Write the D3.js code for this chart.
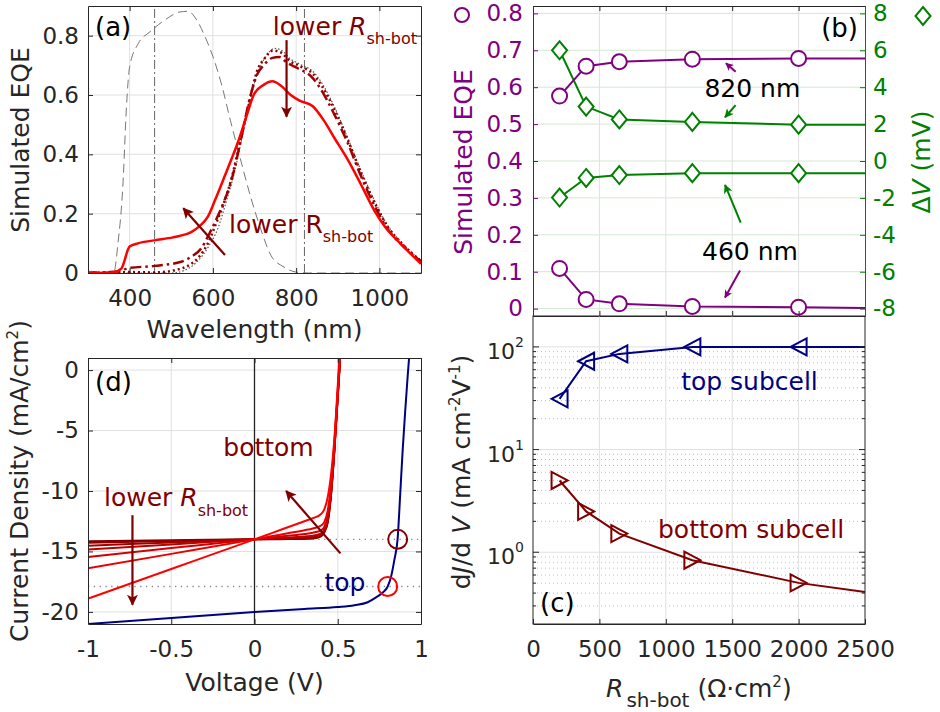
<!DOCTYPE html>
<html><head><meta charset="utf-8">
<script src="https://cdn.jsdelivr.net/npm/d3@7"></script>
<style>body{margin:0;background:#fff}svg{display:block}</style>
</head><body><svg id="c" width="940" height="712"></svg>
<script>
// ===================== DATA =====================
// Panel (a): simulated EQE vs wavelength (nm)
const eqeLowRsh  = [[300,0],[360,0.002],[380,0.015],[400,0.089],[420,0.1],[460,0.11],[504,0.12],[520,0.125],[548,0.138],[568,0.158],[588,0.19],[605,0.245],[628,0.325],[645,0.385],[660,0.44],[682,0.534],[698,0.6],[723,0.635],[743,0.646],[763,0.632],[787,0.6],[807,0.582],[840,0.562],[868,0.511],[892,0.455],[924,0.382],[956,0.298],[989,0.208],[1013,0.157],[1045,0.107],[1077,0.062],[1100,0.031]];
const eqeMidRsh  = [[300,0],[376,0.006],[396,0.016],[460,0.024],[524,0.038],[548,0.055],[572,0.083],[592,0.134],[608,0.18],[625,0.235],[642,0.3],[666,0.44],[686,0.573],[706,0.668],[723,0.702],[743,0.725],[759,0.728],[779,0.708],[803,0.691],[840,0.657],[860,0.618],[892,0.534],[924,0.438],[956,0.326],[989,0.225],[1021,0.146],[1053,0.096],[1100,0.039]];
const eqeHighRsh = [[300,0],[400,0.003],[460,0.002],[516,0.012],[540,0.024],[564,0.05],[588,0.1],[608,0.168],[625,0.23],[645,0.32],[665,0.44],[685,0.56],[706,0.68],[725,0.725],[745,0.75],[765,0.742],[785,0.715],[810,0.697],[840,0.672],[862,0.63],[892,0.551],[924,0.449],[956,0.337],[989,0.236],[1021,0.154],[1053,0.101],[1100,0.04]];
const eqeNoShunt = [[300,0],[500,0],[530,0.008],[560,0.035],[590,0.09],[612,0.15],[632,0.24],[652,0.34],[672,0.47],[692,0.6],[712,0.69],[730,0.735],[748,0.757],[766,0.75],[786,0.722],[810,0.703],[840,0.68],[862,0.64],[892,0.56],[924,0.455],[956,0.345],[989,0.242],[1021,0.158],[1053,0.104],[1100,0.042]];
const eqeTopCell = [[300,0.006],[362,0.003],[372,0.1],[384,0.3],[392,0.55],[400,0.695],[421,0.774],[449,0.813],[485,0.853],[521,0.88],[541,0.882],[561,0.853],[581,0.797],[600,0.73],[620,0.64],[642,0.515],[666,0.385],[690,0.26],[715,0.148],[740,0.058],[771,0.02],[800,0.003],[830,0],[1100,0]];
const probeWavelengths = [460, 820];
const aXTicks = [400, 600, 800, 1000];
const aYTicks = [0, 0.2, 0.4, 0.6, 0.8];

// Panels (b),(c): bottom-cell shunt resistance (Ohm cm2)
const rshLine   = [200, 400, 650, 1200, 2000, 2500];
const rshMarked = [200, 400, 650, 1200, 2000];
const eqe820 = [0.576, 0.657, 0.669, 0.676, 0.678, 0.678];
const eqe460 = [0.109, 0.025, 0.013, 0.006, 0.004, 0.002];
const dv820  = [6.0, 2.95, 2.25, 2.12, 1.97, 1.97];
const dv460  = [-1.98, -0.92, -0.76, -0.66, -0.66, -0.66];
const bXTicks = [0, 500, 1000, 1500, 2000, 2500];
const bYLeftTicks  = [0, 0.1, 0.2, 0.3, 0.4, 0.5, 0.6, 0.7, 0.8];
const bYRightTicks = [-8, -6, -4, -2, 0, 2, 4, 6, 8];
const slopeTop    = [31.2, 72.5, 85.5, 100, 100, 100];
const slopeBottom = [5.0, 2.5, 1.52, 0.836, 0.503, 0.41];
const cYTicks = [1, 10, 100];

// Panel (d): J-V curves
const jvVoltage = [-1, -0.5, 0, 0.1, 0.2, 0.3, 0.35, 0.4, 0.42, 0.44, 0.46, 0.48, 0.5, 0.52, 0.54];
const jvBottom = [
  [-18.9,-16.45,-14.0,-13.5,-13.0,-12.5,-12.25,-11.9,-11.5,-10.5,-8.6,-5.6,-1.3,3.5,9.0],
  [-16.4,-15.2,-14.0,-13.75,-13.5,-13.25,-13.1,-12.85,-12.55,-11.6,-9.4,-6.0,-1.7,3.0,8.5],
  [-15.45,-14.72,-14.0,-13.85,-13.7,-13.55,-13.45,-13.25,-12.95,-12.0,-9.8,-6.3,-1.9,2.7,8.0],
  [-14.83,-14.42,-14.0,-13.92,-13.84,-13.76,-13.7,-13.5,-13.15,-12.3,-10.0,-6.4,-2.0,2.5,7.8],
  [-14.52,-14.26,-14.0,-13.95,-13.9,-13.85,-13.8,-13.6,-13.25,-12.4,-10.1,-6.5,-2.1,2.4,7.7],
  [-14.28,-14.14,-14.0,-13.98,-13.95,-13.92,-13.88,-13.7,-13.35,-12.5,-10.2,-6.55,-2.15,2.35,7.6],
  [-14.15,-14.07,-14.0,-13.99,-13.98,-13.96,-13.93,-13.75,-13.4,-12.6,-10.3,-6.6,-2.2,2.3,7.5]
];
const jvTopV = [-1,-0.5,0,0.3,0.5,0.6,0.68,0.73,0.77,0.8,0.82,0.84,0.86,0.875,0.89,0.905,0.92,0.935];
const jvTopJ = [-21.0,-20.5,-20.0,-19.75,-19.6,-19.45,-19.2,-18.8,-18.4,-17.9,-17.1,-15.7,-13.9,-10.3,-6.6,-3.4,-0.5,2.2];
const opPoints = [[0.8,-17.9],[0.86,-14.0]];
const dXTicks = [-1, -0.5, 0, 0.5, 1];
const dYTicks = [-20, -15, -10, -5, 0];

// ===================== STYLE =====================
const FONT = "DejaVu Sans", AX = "#262626", GRID = "#e0e0e0";
const FT = 23, FL = 25;
const PURPLE = "#800080", GREEN = "#008000", NAVY = "#000080", DRED = "#800000", RED = "#ff0000";

const svg = d3.select("#c").attr("font-family", FONT);
const defs = svg.append("defs");
function mkArrow(id, color, w, h) {
  defs.append("marker").attr("id", id).attr("viewBox", "0 0 10 10")
    .attr("refX", 9).attr("refY", 5).attr("markerUnits", "userSpaceOnUse")
    .attr("markerWidth", w).attr("markerHeight", h).attr("orient", "auto")
    .append("path").attr("d", "M0,0L10,5L0,10L2.5,5Z").attr("fill", color);
}
mkArrow("arDR", DRED, 13, 11);
mkArrow("arP", PURPLE, 9, 8);
mkArrow("arG", GREEN, 10, 9);
function clipRect(id, x, y) {
  const [a, b] = x.range(), [c, d] = y.range();
  defs.append("clipPath").attr("id", id).append("rect")
    .attr("x", Math.min(a, b)).attr("y", Math.min(c, d))
    .attr("width", Math.abs(b - a)).attr("height", Math.abs(d - c));
}
function styleAxis(sel, color) {
  sel.attr("font-family", FONT).attr("font-size", FT);
  sel.select(".domain").attr("stroke", color).attr("stroke-width", 1);
  sel.selectAll(".tick line").attr("stroke", color);
  sel.selectAll(".tick text").attr("fill", color);
  return sel;
}
const fmt = d => String(d);
const none = () => "";
function arrow(g, x1, y1, x2, y2, color, id, w) {
  g.append("line").attr("x1", x1).attr("y1", y1).attr("x2", x2).attr("y2", y2)
    .attr("stroke", color).attr("stroke-width", w).attr("marker-end", `url(#${id})`);
}
function vlabel(x, y, parts, color) {
  const t = svg.append("text").attr("transform", `translate(${x},${y}) rotate(-90)`)
    .attr("text-anchor", "middle").attr("font-size", FL).attr("fill", color);
  parts(t);
  return t;
}

// ===================== PANEL (a) =====================
{
  const g = svg.append("g");
  const x = d3.scaleLinear().domain([300, 1100]).range([88, 421]);
  const y = d3.scaleLinear().domain([0, 0.9]).range([273, 6]);
  clipRect("clipA", x, y);
  g.selectAll(".gx").data(aXTicks).join("line").attr("x1", d => x(d)).attr("x2", d => x(d))
    .attr("y1", y.range()[0]).attr("y2", y.range()[1]).attr("stroke", GRID);
  g.selectAll(".gy").data(aYTicks.slice(1)).join("line").attr("y1", d => y(d)).attr("y2", d => y(d))
    .attr("x1", x.range()[0]).attr("x2", x.range()[1]).attr("stroke", GRID);
  const pg = g.append("g").attr("clip-path", "url(#clipA)");
  pg.selectAll(".vm").data(probeWavelengths).join("line").attr("x1", d => x(d)).attr("x2", d => x(d))
    .attr("y1", y.range()[0]).attr("y2", y.range()[1]).attr("stroke", "#666").attr("stroke-width", 1)
    .attr("stroke-dasharray", "9,3,2,3");
  const line = d3.line().x(d => x(d[0])).y(d => y(d[1])).curve(d3.curveMonotoneX);
  pg.append("path").attr("d", line(eqeTopCell)).attr("fill", "none").attr("stroke", "#777")
    .attr("stroke-width", 1).attr("stroke-dasharray", "9,5");
  pg.append("path").attr("d", line(eqeNoShunt)).attr("fill", "none").attr("stroke", "#555")
    .attr("stroke-width", 1.2).attr("stroke-dasharray", "1.5,2");
  pg.append("path").attr("d", line(eqeHighRsh)).attr("fill", "none").attr("stroke", "#8b0000")
    .attr("stroke-width", 2.5).attr("stroke-dasharray", "2,3");
  pg.append("path").attr("d", line(eqeMidRsh)).attr("fill", "none").attr("stroke", "#a00000")
    .attr("stroke-width", 2.5).attr("stroke-dasharray", "11,4,2.5,4");
  pg.append("path").attr("d", line(eqeLowRsh)).attr("fill", "none").attr("stroke", RED)
    .attr("stroke-width", 2.5);
  // axes
  styleAxis(g.append("g").attr("transform", `translate(0,${y.range()[0]})`)
    .call(d3.axisBottom(x).tickValues(aXTicks).tickSize(-5).tickSizeOuter(0).tickPadding(17).tickFormat(fmt)), AX);
  styleAxis(g.append("g").attr("transform", `translate(0,${y.range()[1]})`)
    .call(d3.axisTop(x).tickValues(aXTicks).tickSize(-5).tickSizeOuter(0).tickFormat(none)), AX);
  styleAxis(g.append("g").attr("transform", `translate(${x.range()[0]},0)`)
    .call(d3.axisLeft(y).tickValues(aYTicks).tickSize(-5).tickSizeOuter(0).tickPadding(9).tickFormat(fmt)), AX);
  styleAxis(g.append("g").attr("transform", `translate(${x.range()[1]},0)`)
    .call(d3.axisRight(y).tickValues(aYTicks).tickSize(-5).tickSizeOuter(0).tickFormat(none)), AX);
  // annotations
  arrow(g, x(777), y(0.785), x(777), y(0.527), DRED, "arDR", 2.2);
  arrow(g, x(629), y(0.061), x(529), y(0.218), DRED, "arDR", 2.2);
  const t1 = g.append("text").attr("x", x(744)).attr("y", y(0.802)).attr("font-size", FL).attr("fill", DRED);
  t1.append("tspan").text("lower ");
  t1.append("tspan").attr("font-style", "italic").text("R");
  t1.append("tspan").attr("font-size", 16).attr("dy", 9).text("sh-bot");
  const t2 = g.append("text").attr("x", x(639)).attr("y", y(0.135)).attr("font-size", FL).attr("fill", DRED);
  t2.append("tspan").text("lower R");
  t2.append("tspan").attr("font-size", 16).attr("dy", 9).text("sh-bot");
  g.append("text").attr("x", 95).attr("y", 36).attr("font-size", 26).attr("fill", "#000").text("(a)");
  g.append("text").attr("x", (x.range()[0] + x.range()[1]) / 2).attr("y", 338).attr("text-anchor", "middle")
    .attr("font-size", FL).attr("fill", AX).text("Wavelength (nm)");
  vlabel(29, 140, t => t.text("Simulated EQE"), AX);
}

// ===================== PANEL (b) =====================
{
  const g = svg.append("g");
  const x = d3.scaleLinear().domain([0, 2500]).range([533, 865]);
  const yL = d3.scaleLinear().domain([-0.02, 0.82]).range([316, 6]);
  const yR = d3.scaleLinear().domain([-8.4, 8.4]).range([316, 6]);
  g.selectAll(".gy").data(bYRightTicks).join("line").attr("y1", d => yR(d)).attr("y2", d => yR(d))
    .attr("x1", x.range()[0]).attr("x2", x.range()[1]).attr("stroke", "#d3e8d3");
  g.selectAll(".gx").data(bXTicks.slice(1, -1)).join("line").attr("x1", d => x(d)).attr("x2", d => x(d))
    .attr("y1", 316).attr("y2", 6).attr("stroke", GRID);
  const lineL = d3.line().x((d, i) => x(rshLine[i])).y(d => yL(d));
  const lineR = d3.line().x((d, i) => x(rshLine[i])).y(d => yR(d));
  [dv820, dv460].forEach(s => g.append("path").attr("d", lineR(s)).attr("fill", "none")
    .attr("stroke", GREEN).attr("stroke-width", 2));
  [eqe820, eqe460].forEach(s => g.append("path").attr("d", lineL(s)).attr("fill", "none")
    .attr("stroke", PURPLE).attr("stroke-width", 2));
  const diamond = "M0,-9L7.5,0L0,9L-7.5,0Z";
  [dv820, dv460].forEach(s => g.append("g").selectAll("path").data(rshMarked).join("path")
    .attr("transform", (r, i) => `translate(${x(r)},${yR(s[i])})`).attr("d", diamond)
    .attr("fill", "#fff").attr("stroke", GREEN).attr("stroke-width", 2));
  [eqe820, eqe460].forEach(s => g.append("g").selectAll("circle").data(rshMarked).join("circle")
    .attr("cx", r => x(r)).attr("cy", (r, i) => yL(s[i])).attr("r", 7.5)
    .attr("fill", "#fff").attr("stroke", PURPLE).attr("stroke-width", 2));
  styleAxis(g.append("g").attr("transform", `translate(0,316)`)
    .call(d3.axisBottom(x).tickValues(bXTicks).tickSize(-5).tickSizeOuter(0).tickFormat(none)), AX);
  styleAxis(g.append("g").attr("transform", `translate(0,6)`)
    .call(d3.axisTop(x).tickValues(bXTicks).tickSize(-5).tickSizeOuter(0).tickFormat(none)), AX);
  styleAxis(g.append("g").attr("transform", `translate(533,0)`)
    .call(d3.axisLeft(yL).tickValues(bYLeftTicks).tickSize(-5).tickSizeOuter(0).tickPadding(10).tickFormat(fmt)), PURPLE);
  styleAxis(g.append("g").attr("transform", `translate(865,0)`)
    .call(d3.axisRight(yR).tickValues(bYRightTicks).tickSize(-5).tickSizeOuter(0).tickPadding(8).tickFormat(fmt)), GREEN);
  // annotations
  g.append("text").attr("x", x(1652)).attr("y", yL(0.574)).attr("text-anchor", "middle")
    .attr("font-size", FL).attr("fill", "#000").text("820 nm");
  g.append("text").attr("x", x(1634)).attr("y", yL(0.132)).attr("text-anchor", "middle")
    .attr("font-size", FL).attr("fill", "#000").text("460 nm");
  arrow(g, x(1526), yL(0.642), x(1453), yL(0.665), PURPLE, "arP", 2);
  arrow(g, x(1526), yR(3.03), x(1446), yR(2.37), GREEN, "arG", 2);
  arrow(g, x(1564), yR(-3.34), x(1446), yR(-1.30), GREEN, "arG", 2);
  arrow(g, x(1559), yL(0.103), x(1446), yL(0.030), PURPLE, "arP", 2);
  g.append("text").attr("x", 858).attr("y", 37).attr("text-anchor", "end").attr("font-size", 26)
    .attr("fill", "#000").text("(b)");
  // axis labels with marker symbols
  svg.append("circle").attr("cx", 462).attr("cy", 15).attr("r", 7).attr("fill", "none")
    .attr("stroke", PURPLE).attr("stroke-width", 2);
  vlabel(472, 162, t => t.text("Simulated EQE"), PURPLE);
  svg.append("path").attr("transform", "translate(923,16)").attr("d", diamond)
    .attr("fill", "none").attr("stroke", GREEN).attr("stroke-width", 2);
  vlabel(930, 162, t => { t.append("tspan").text("\u0394"); t.append("tspan").attr("font-style", "italic").text("V");
    t.append("tspan").text(" (mV)"); }, GREEN);
}

// ===================== PANEL (c) =====================
{
  const g = svg.append("g");
  const x = d3.scaleLinear().domain([0, 2500]).range([533, 865]);
  const y = d3.scaleLog().domain([0.2, 200]).range([624, 316]);
  const minor = [];
  [0.1, 1, 10, 100].forEach(dec => { for (let k = 2; k <= 9; k++) { const v = dec * k; if (v > 0.2 && v < 200) minor.push(v); } });
  g.selectAll(".gm").data(minor).join("line").attr("y1", d => y(d)).attr("y2", d => y(d))
    .attr("x1", 533).attr("x2", 865).attr("stroke", "#bdbdbd").attr("stroke-width", 1).attr("stroke-dasharray", "1,3");
  g.selectAll(".gy").data(cYTicks).join("line").attr("y1", d => y(d)).attr("y2", d => y(d))
    .attr("x1", 533).attr("x2", 865).attr("stroke", GRID);
  g.selectAll(".gx").data(bXTicks.slice(1, -1)).join("line").attr("x1", d => x(d)).attr("x2", d => x(d))
    .attr("y1", 624).attr("y2", 316).attr("stroke", GRID);
  const line = d3.line().x((d, i) => x(rshLine[i])).y(d => y(d));
  g.append("path").attr("d", line(slopeTop)).attr("fill", "none").attr("stroke", NAVY).attr("stroke-width", 2);
  g.append("path").attr("d", line(slopeBottom)).attr("fill", "none").attr("stroke", DRED).attr("stroke-width", 2);
  const triL = "M-8,0L8,-8.5L8,8.5Z", triR = "M8,0L-8,-8.5L-8,8.5Z";
  g.append("g").selectAll("path").data(rshMarked).join("path")
    .attr("transform", (r, i) => `translate(${x(r)},${y(slopeTop[i])})`).attr("d", triL)
    .attr("fill", "none").attr("stroke", NAVY).attr("stroke-width", 2);
  g.append("g").selectAll("path").data(rshMarked).join("path")
    .attr("transform", (r, i) => `translate(${x(r)},${y(slopeBottom[i])})`).attr("d", triR)
    .attr("fill", "none").attr("stroke", DRED).attr("stroke-width", 2);
  // frame & ticks
  const fr = g.append("g").attr("stroke", AX);
  fr.append("rect").attr("x", 533).attr("y", 316).attr("width", 332).attr("height", 308).attr("fill", "none");
  fr.selectAll(".mt").data(cYTicks).join("path").attr("d", d => `M533,${y(d)}h6M865,${y(d)}h-6`);
  fr.selectAll(".nt").data(minor).join("path").attr("d", d => `M533,${y(d)}h3M865,${y(d)}h-3`);
  styleAxis(g.append("g").attr("transform", `translate(0,624)`)
    .call(d3.axisBottom(x).tickValues(bXTicks).tickSize(-5).tickSizeOuter(0).tickPadding(17).tickFormat(fmt)), AX);
  const yl = g.append("g").selectAll("text").data(cYTicks).join("text")
    .attr("x", 524).attr("y", d => y(d) + 12).attr("text-anchor", "end").attr("fill", AX).attr("font-size", 22);
  yl.append("tspan").text("10");
  yl.append("tspan").attr("font-size", 14).attr("dy", -12).text(d => String(Math.round(Math.log10(d))));
  g.append("text").attr("x", x(1630)).attr("y", y(38)).attr("text-anchor", "middle").attr("font-size", FL)
    .attr("fill", NAVY).text("top subcell");
  g.append("text").attr("x", x(1642)).attr("y", y(1.37)).attr("text-anchor", "middle").attr("font-size", FL)
    .attr("fill", DRED).text("bottom subcell");
  g.append("text").attr("x", 540).attr("y", 612).attr("font-size", 26).attr("fill", "#000").text("(c)");
  const xl = g.append("text").attr("x", 606).attr("y", 697).attr("font-size", FL).attr("fill", AX);
  xl.append("tspan").attr("font-style", "italic").text("R");
  xl.append("tspan").attr("font-size", 20).attr("dy", 10).attr("dx", 3).text("sh-bot");
  xl.append("tspan").attr("dy", -10).text(" (\u03A9\u00B7cm");
  xl.append("tspan").attr("font-size", 15).attr("dy", -10).text("2");
  xl.append("tspan").attr("dy", 10).text(")");
  vlabel(470, 472, t => {
    t.append("tspan").text("d"); t.append("tspan").attr("font-style", "italic").text("J");
    t.append("tspan").text("/d "); t.append("tspan").attr("font-style", "italic").text("V");
    t.append("tspan").text(" (mA cm"); t.append("tspan").attr("font-size", 15).attr("dy", -10).text("-2");
    t.append("tspan").attr("dy", 10).text("V"); t.append("tspan").attr("font-size", 15).attr("dy", -10).text("-1");
    t.append("tspan").attr("dy", 10).text(")");
  }, AX);
}

// ===================== PANEL (d) =====================
{
  const g = svg.append("g");
  const x = d3.scaleLinear().domain([-1, 1]).range([88, 421]);
  const y = d3.scaleLinear().domain([-21, 1]).range([624, 358]);
  clipRect("clipD", x, y);
  g.selectAll(".gx").data(dXTicks.slice(1, -1)).join("line").attr("x1", d => x(d)).attr("x2", d => x(d))
    .attr("y1", 624).attr("y2", 358).attr("stroke", GRID);
  g.selectAll(".gy").data(dYTicks).join("line").attr("y1", d => y(d)).attr("y2", d => y(d))
    .attr("x1", 88).attr("x2", 421).attr("stroke", GRID);
  g.append("line").attr("x1", x(0)).attr("x2", x(0)).attr("y1", 624).attr("y2", 358)
    .attr("stroke", "#222").attr("stroke-width", 1.3);
  g.append("line").attr("x1", x(0)).attr("x2", x(1)).attr("y1", y(opPoints[1][1])).attr("y2", y(opPoints[1][1]))
    .attr("stroke", "#888").attr("stroke-width", 1.3).attr("stroke-dasharray", "1.3,4.5");
  g.append("line").attr("x1", x(-1)).attr("x2", x(1)).attr("y1", y(opPoints[0][1])).attr("y2", y(opPoints[0][1]))
    .attr("stroke", "#888").attr("stroke-width", 1.3).attr("stroke-dasharray", "1.3,4.5");
  const pg = g.append("g").attr("clip-path", "url(#clipD)");
  const line = d3.line().x((d, i) => x(jvVoltage[i])).y(d => y(d)).curve(d3.curveMonotoneX);
  const col = d3.interpolateRgb(RED, "#780000");
  const n = jvBottom.length;
  for (let k = n - 1; k >= 0; k--) {
    pg.append("path").attr("d", line(jvBottom[k])).attr("fill", "none")
      .attr("stroke", col(k / (n - 1))).attr("stroke-width", 2);
  }
  const lineT = d3.line().x((d, i) => x(jvTopV[i])).y(d => y(d)).curve(d3.curveMonotoneX);
  pg.append("path").attr("d", lineT(jvTopJ)).attr("fill", "none").attr("stroke", NAVY).attr("stroke-width", 2);
  g.append("circle").attr("cx", x(opPoints[0][0])).attr("cy", y(opPoints[0][1])).attr("r", 9.5)
    .attr("fill", "none").attr("stroke", RED).attr("stroke-width", 2);
  g.append("circle").attr("cx", x(opPoints[1][0])).attr("cy", y(opPoints[1][1])).attr("r", 9.5)
    .attr("fill", "none").attr("stroke", DRED).attr("stroke-width", 2);
  styleAxis(g.append("g").attr("transform", `translate(0,624)`)
    .call(d3.axisBottom(x).tickValues(dXTicks).tickSize(-5).tickSizeOuter(0).tickPadding(17).tickFormat(fmt)), AX);
  styleAxis(g.append("g").attr("transform", `translate(0,358)`)
    .call(d3.axisTop(x).tickValues(dXTicks).tickSize(-5).tickSizeOuter(0).tickFormat(none)), AX);
  styleAxis(g.append("g").attr("transform", `translate(88,0)`)
    .call(d3.axisLeft(y).tickValues(dYTicks).tickSize(-5).tickSizeOuter(0).tickPadding(9).tickFormat(fmt)), AX);
  styleAxis(g.append("g").attr("transform", `translate(421,0)`)
    .call(d3.axisRight(y).tickValues(dYTicks).tickSize(-5).tickSizeOuter(0).tickFormat(none)), AX);
  arrow(g, x(0.516), y(-15.16), x(0.19), y(-10.0), DRED, "arDR", 2.2);
  arrow(g, x(-0.733), y(-12.0), x(-0.733), y(-19.4), DRED, "arDR", 2.2);
  g.append("text").attr("x", x(0.084)).attr("y", y(-7.14)).attr("text-anchor", "middle").attr("font-size", FL)
    .attr("fill", DRED).text("bottom");
  g.append("text").attr("x", x(0.42)).attr("y", y(-18.26)).attr("font-size", FL).attr("fill", NAVY).text("top");
  const t = g.append("text").attr("x", x(-0.904)).attr("y", y(-11.26)).attr("font-size", FL).attr("fill", DRED);
  t.append("tspan").text("lower ");
  t.append("tspan").attr("font-style", "italic").text("R");
  t.append("tspan").attr("font-size", 16).attr("dy", 10).text("sh-bot");
  g.append("text").attr("x", 95).attr("y", 391).attr("font-size", 26).attr("fill", "#000").text("(d)");
  g.append("text").attr("x", 254.5).attr("y", 691).attr("text-anchor", "middle").attr("font-size", FL)
    .attr("fill", AX).text("Voltage (V)");
  vlabel(28, 481, tt => { tt.append("tspan").text("Current Density (mA/cm");
    tt.append("tspan").attr("font-size", 15).attr("dy", -10).text("2"); tt.append("tspan").attr("dy", 10).text(")"); }, AX);
}
</script></body></html>
